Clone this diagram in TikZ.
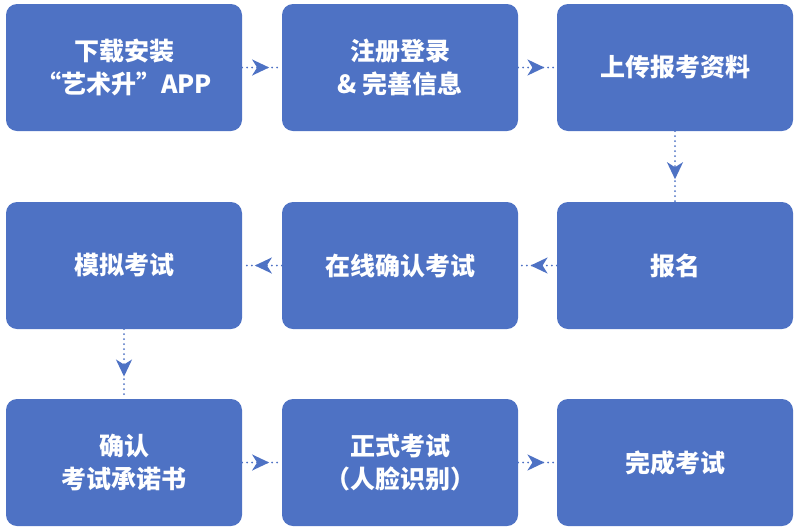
\documentclass[tikz,border=0pt]{standalone}
\usepackage{fontspec}
\newfontfamily\cjk{Noto Sans CJK SC}
\usetikzlibrary{arrows.meta,decorations.markings}
\definecolor{stepblue}{RGB}{78,114,196}

\begin{document}
\begin{tikzpicture}[x=1pt,y=-1pt,
    stepbox/.style={fill=stepblue,rounded corners=11pt,minimum width=236pt,
      minimum height=127pt,text=white,align=center,
      font=\cjk\bfseries\fontsize{25}{33}\selectfont},
    flow/.style={stepblue,line width=2pt,line cap=round,
      dash pattern=on 0pt off 5pt,postaction={decorate},
      decoration={markings,mark=at position 0.68 with
        {\arrow{Stealth[length=17pt,width=16pt,inset=5pt]}}}}]
  \useasboundingbox (0,0) rectangle (800,531);
  % first row
  \node[stepbox] (download) at (124,67.5) {下载安装\\“艺术升”APP};
  \node[stepbox] (register) at (400,67.5) {注册登录\\\& 完善信息};
  \node[stepbox] (upload) at (675,67.5) {上传报考资料};
  % second row
  \node[stepbox] (mock) at (124,265.5) {模拟考试};
  \node[stepbox] (online) at (400,265.5) {在线确认考试};
  \node[stepbox] (signup) at (675,265.5) {报名};
  % third row
  \node[stepbox] (pledge) at (124,462.5) {确认\\考试承诺书};
  \node[stepbox] (exam) at (400,462.5) {正式考试\\（人脸识别）};
  \node[stepbox] (done) at (675,462.5) {完成考试};
  % connectors
  \draw[flow] (download) -- (register);
  \draw[flow] (register) -- (upload);
  \draw[flow] (upload) -- (signup);
  \draw[flow] (signup) -- (online);
  \draw[flow] (online) -- (mock);
  \draw[flow] (mock) -- (pledge);
  \draw[flow] (pledge) -- (exam);
  \draw[flow] (exam) -- (done);
\end{tikzpicture}
\end{document}
